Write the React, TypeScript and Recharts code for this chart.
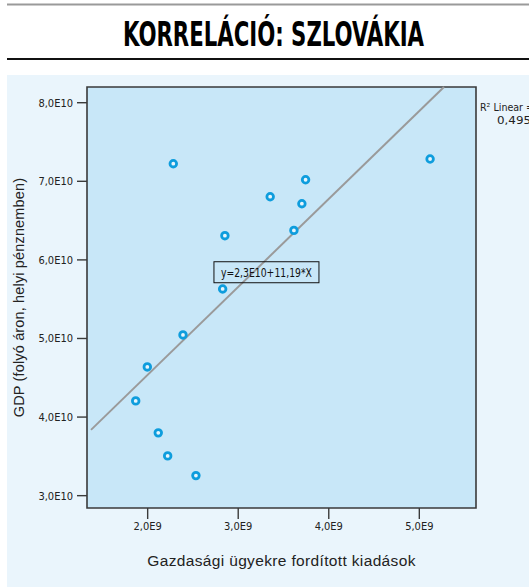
// @ts-nocheck
import React from 'react';
import {
  ScatterChart,
  Scatter,
  XAxis,
  YAxis,
  ReferenceArea,
  ReferenceLine,
  ReferenceDot,
} from 'recharts';

const C = {
  panel: '#EAF5FC',
  plot: '#C8E7F8',
  frame: '#3A3A3A',
  dot: '#0E9DDD',
  dotHole: '#E8F5FC',
  fit: '#9A9A9A',
  text: '#222222',
};

const NARROW = '"Liberation Sans Narrow", "DejaVu Sans Condensed", "Arial Narrow", sans-serif';
const SANS = '"Liberation Sans", Arial, sans-serif';

// Gazdasági ügyekre fordított kiadások (x) vs GDP (y)
const X_VALUES = [2.283e9, 3.744e9, 3.353e9, 3.703e9, 3.615e9, 2.853e9, 5.119e9, 2.828e9, 2.39e9, 1.996e9, 1.868e9, 2.117e9, 2.221e9, 2.533e9];
const Y_VALUES = [7.224e10, 7.02e10, 6.804e10, 6.715e10, 6.375e10, 6.308e10, 7.284e10, 5.63e10, 5.045e10, 4.638e10, 4.206e10, 3.799e10, 3.506e10, 3.255e10];

const X_TICKS = [2e9, 3e9, 4e9, 5e9];
const Y_TICKS = [3e10, 4e10, 5e10, 6e10, 7e10, 8e10];
const X_DOMAIN = [1.33e9, 5.626e9];
const Y_DOMAIN = [2.843e10, 8.2e10];

// linear fit: y = 2,3E10 + 11,19 * X
const FIT_A = 2.3e10;
const FIT_B = 11.19;
const FIT_X_START = 1.374e9;
const R2 = '0,495';

const points = X_VALUES.map((x, i) => ({ x, y: Y_VALUES[i] }));
const fitEnd = (Y_DOMAIN[1] - FIT_A) / FIT_B;

const fmtX = (v) => (v / 1e9).toFixed(1).replace('.', ',') + 'E9';
const fmtY = (v) => (v / 1e10).toFixed(1).replace('.', ',') + 'E10';

function Ring({ cx, cy }) {
  if (cx == null || cy == null) return null;
  return <circle cx={cx} cy={cy} r={3.3} fill={C.dotHole} stroke={C.dot} strokeWidth={2.8} />;
}

function EquationBox({ viewBox }) {
  const { x, y } = viewBox;
  return (
    <g>
      <rect x={x} y={y - 10.5} width={105} height={21} fill="none" stroke="#111" strokeWidth={1} />
      <text
        x={x + 7}
        y={y + 4.5}
        textLength={91}
        lengthAdjust="spacingAndGlyphs"
        fontFamily={NARROW}
        fontSize={12.5}
        fill="#111"
      >
        y=2,3E10+11,19*X
      </text>
    </g>
  );
}

export default function App() {
  return (
    <div style={{ position: 'relative', width: 529, height: 587, overflow: 'hidden', background: '#fff' }}>
      <style>{`body{margin:0}`}</style>

      <svg width={529} height={72} style={{ position: 'absolute', left: 0, top: 0 }}>
        <line x1={7} x2={529} y1={4.5} y2={4.5} stroke="#9a9a9a" strokeWidth={2} />
        <text
          x={123}
          y={46}
          textLength={301}
          lengthAdjust="spacingAndGlyphs"
          fontFamily={NARROW}
          fontWeight={700}
          fontSize={33}
          fill="#000"
        >
          KORRELÁCIÓ: SZLOVÁKIA
        </text>
        <line x1={7} x2={529} y1={59} y2={59} stroke="#111" strokeWidth={2} />
      </svg>

      <div style={{ position: 'absolute', left: 7, top: 75, width: 522, height: 512, background: C.panel }} />

      <div style={{ position: 'absolute', left: 0, top: 0 }}>
        <ScatterChart width={529} height={587} margin={{ top: 87, right: 53, bottom: 0, left: 0 }}>
          <ReferenceArea
            x1={X_DOMAIN[0]}
            x2={X_DOMAIN[1]}
            y1={Y_DOMAIN[0]}
            y2={Y_DOMAIN[1]}
            fill={C.plot}
            fillOpacity={1}
            stroke={C.frame}
            strokeWidth={1.6}
          />
          <XAxis
            type="number"
            dataKey="x"
            domain={X_DOMAIN}
            ticks={X_TICKS}
            allowDataOverflow
            height={79}
            axisLine={false}
            tickSize={11}
            tickMargin={3}
            tickLine={{ stroke: C.frame, strokeWidth: 1.4 }}
            tickFormatter={fmtX}
            tick={{ fontFamily: NARROW, fontSize: 11, fill: C.text }}
            label={{
              value: 'Gazdasági ügyekre fordított kiadások',
              position: 'insideBottom',
              offset: 21,
              fontFamily: SANS,
              fontSize: 15.5,
              letterSpacing: 0.35,
              fill: C.text,
            }}
          />
          <YAxis
            type="number"
            dataKey="y"
            domain={Y_DOMAIN}
            ticks={Y_TICKS}
            allowDataOverflow
            width={87}
            axisLine={false}
            tickSize={10}
            tickMargin={4}
            tickLine={{ stroke: C.frame, strokeWidth: 1.4 }}
            tickFormatter={fmtY}
            tick={{ fontFamily: NARROW, fontSize: 11, fill: C.text }}
            label={{
              value: 'GDP (folyó áron, helyi pénznemben)',
              angle: -90,
              position: 'insideLeft',
              offset: 19,
              style: { textAnchor: 'middle' },
              fontFamily: SANS,
              fontSize: 14.5,
              letterSpacing: 0.15,
              fill: C.text,
            }}
          />
          <ReferenceLine
            segment={[
              { x: FIT_X_START, y: FIT_A + FIT_B * FIT_X_START },
              { x: fitEnd, y: FIT_A + FIT_B * fitEnd },
            ]}
            stroke={C.fit}
            strokeWidth={2}
            ifOverflow="visible"
          />
          <ReferenceDot x={2.732e9} y={5.843e10} r={0} fill="none" stroke="none" label={<EquationBox />} />
          <Scatter data={points} shape={<Ring />} isAnimationActive={false} />
        </ScatterChart>
      </div>

      <svg width={529} height={140} style={{ position: 'absolute', left: 0, top: 0 }}>
        <text x={480} y={111} textLength={54} lengthAdjust="spacingAndGlyphs" fontFamily={NARROW} fontSize={11} fill={C.text}>
          R² Linear =
        </text>
        <text x={497} y={124} textLength={34} lengthAdjust="spacingAndGlyphs" fontFamily={NARROW} fontSize={11} fill={C.text}>
          {R2}
        </text>
      </svg>
    </div>
  );
}
